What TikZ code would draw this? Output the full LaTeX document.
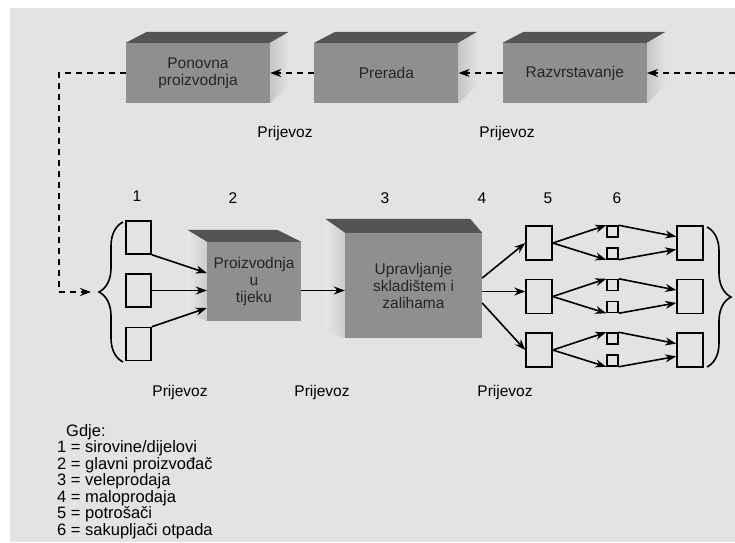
\documentclass[tikz,border=0pt]{standalone}
\usepackage{fontspec}
\setmainfont{Liberation Sans}
\usetikzlibrary{positioning,calc,arrows.meta,decorations.pathreplacing}

\definecolor{paper}{gray}{0.89}
\definecolor{cubefront}{gray}{0.56}
\definecolor{cubetop}{gray}{0.33}

\tikzset{
  cube/.style={fill=cubefront, inner sep=0pt, align=center, text=black!85},
  bin/.style={draw, line width=1.5pt, minimum width=26pt, minimum height=34pt, inner sep=0pt},
  minibin/.style={draw, line width=1.5pt, minimum size=11pt, inner sep=0pt},
  flow/.style={->, line width=1.6pt},
  back/.style={->, line width=1.7pt, dash pattern=on 6pt off 5pt},
  curly/.style={decorate, decoration={brace, amplitude=24pt}, line width=1.6pt},
}

\begin{document}
\begin{tikzpicture}[x=1pt, y=-1pt, >={Stealth[length=11pt,width=8pt]},
    font=\fontsize{15.5}{17}\selectfont, node distance=44pt]
    % page
    \fill[white] (0,0) rectangle (735,542);
    \fill[paper] (10,8) rectangle (735,542);
    \useasboundingbox (0,0) rectangle (735,542);

    % reverse chain
    \node[cube, minimum width=144pt, minimum height=60pt] (reman) at (198,73) {Ponovna\\proizvodnja};
    \node[cube, minimum width=144pt, minimum height=60pt, right=of reman] (proc) {Prerada};
    \node[cube, minimum width=144pt, minimum height=60pt, right=of proc] (sort) {Razvrstavanje};
    \foreach \n in {reman,proc,sort} {
      \fill[cubetop] (\n.north west) -- ++(21,-11) -- ($(\n.north east)+(19,-11)$) -- (\n.north east) -- cycle;
      \shade[left color=gray!45, right color=gray!22] (\n.north east) -- ++(19,-11) -- ++(0,53) -- (\n.south east) -- cycle;
    }

    % forward chain
    \node[cube, minimum width=94pt, minimum height=79pt] (prod) at (254,281.5) {Proizvodnja\\u\\tijeku};
    \node[cube, minimum width=137pt, minimum height=105pt] (store) at (413.5,285.5) {Upravljanje\\skladištem i\\zalihama};
    \fill[cubetop] (prod.north west) -- ++(-20,-12) -- ($(prod.north east)+(-24,-12)$) -- (prod.north east) -- cycle;
    \shade[left color=gray!18, right color=gray!40] (prod.north west) -- ++(-20,-12) -- ++(0,83) -- (prod.south west) -- cycle;
    \fill[cubetop] (store.north west) -- ++(-20,-14) -- ($(store.north east)+(-12,-14)$) -- (store.north east) -- cycle;
    \shade[left color=gray!18, right color=gray!40] (store.north west) -- ++(-20,-14) -- ++(0,111) -- (store.south west) -- cycle;

    % stage numbers
    \node (n1) at (137,196) {1};
    \node (n2) at (233,198) {2};
    \node (n3) at (385,198) {3};
    \node (n4) at (482,198) {4};
    \node (n5) at (548,198) {5};
    \node (n6) at (617,198) {6};

    % suppliers
    \foreach \i/\y in {1/237.5, 2/290.5, 3/344}
      \node[bin, minimum width=25pt, minimum height=33pt] (raw\i) at (138.5,\y) {};
    \draw[flow] (raw1.south east) -- ($(prod.west)+(0,-8.5)$);
    \draw[flow] (raw2.east) -- (raw2.east -| prod.west);
    \draw[flow] (raw3.north east) -- ($(prod.west)+(0,26.5)$);
    \draw[flow] (prod.east |- raw2.east) -- (store.west |- raw2.east);

    % consumers and collectors
    \foreach \i/\y in {1/243, 2/296.5, 3/350} {
      \node[bin] (cons\i) at (539,\y) {};
      \node[minibin] (colA\i) at (612.5,\y-11.5) {};
      \node[minibin] (colB\i) at (612.5,\y+10.5) {};
      \node[bin] (end\i) at (690,\y) {};
      \draw[flow] (cons\i.east) -- (colA\i.north west);
      \draw[flow] (cons\i.east) -- (colB\i.south west);
      \draw[flow] (colA\i.north east) -- (end\i.155);
      \draw[flow] (colB\i.south east) -- (end\i.205);
    }
    \draw[flow] ($(store.east)+(0,-7.5)$) -- (cons1.west);
    \draw[flow] (store.east |- cons2.160) -- (cons2.160);
    \draw[flow] ($(store.east)+(0,17.5)$) -- (cons3.west);

    % braces
    \draw[curly] (123,362) -- (123,222);
    \draw[curly] (707,227) -- (707,367);
    \coordinate (loopin) at (99,292);
    \coordinate (corner) at (59,292);
    \coordinate (feed) at (735,73);

    % return flow
    \draw[back] (feed) -- (sort.east);
    \draw[back] (sort.west) -- (proc.east);
    \draw[back] (proc.west) -- (reman.east);
    \draw[back, shorten >=8pt] (reman.west) -| (corner) -- (loopin);

    % transport
    \node (pv1) at (285,133) {Prijevoz};
    \node (pv2) at (507,133) {Prijevoz};
    \node (pv3) at (180,392) {Prijevoz};
    \node (pv4) at (322,392) {Prijevoz};
    \node (pv5) at (505,392) {Prijevoz};

    % legend
    \node[anchor=north west, align=left, inner sep=0pt, font=\fontsize{16.5}{16.5}\selectfont] (legend) at (57,424)
      {\hspace*{9pt}Gdje:\\1 = sirovine/dijelovi\\2 = glavni proizvođač\\3 = veleprodaja\\4 = maloprodaja\\5 = potrošači\\6 = sakupljači otpada};
\end{tikzpicture}
\end{document}
